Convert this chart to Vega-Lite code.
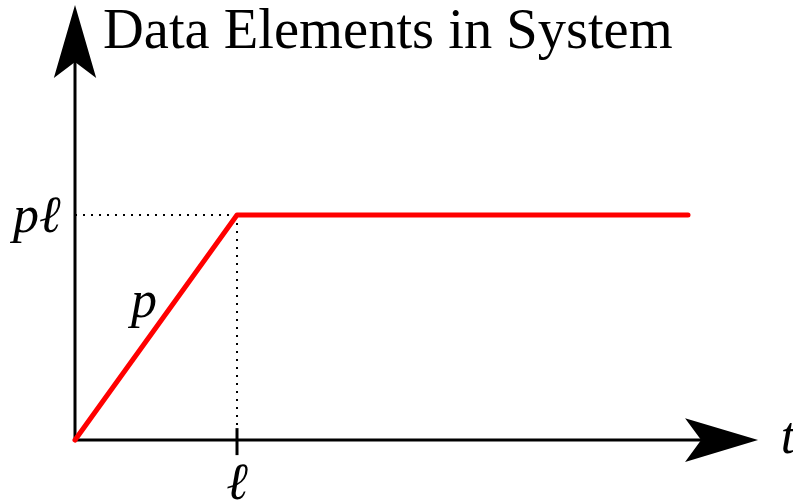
{
  "$schema": "https://vega.github.io/schema/vega-lite/v6.json",
  "width": 793,
  "height": 501,
  "autosize": {"type": "none"},
  "padding": 0,
  "background": "white",
  "config": {"view": {"stroke": null}},
  "datasets": {
    "axes": [
      {"x": 0, "y": 0, "x2": 3.9, "y2": 0},
      {"x": 0, "y": 0, "x2": 0, "y2": 1.75}
    ],
    "dotted": [
      {"x": 0, "y": 1, "x2": 1, "y2": 1},
      {"x": 1, "y": 1, "x2": 1, "y2": 0.053}
    ],
    "tick": [
      {"x": 1, "y": 0.053, "x2": 1, "y2": -0.067}
    ],
    "curve": [
      {"t": 0, "n": 0},
      {"t": 1, "n": 1},
      {"t": 3.784, "n": 1}
    ],
    "upArrow": [{"x": 0, "y": 1.771}],
    "rightArrow": [{"x": 3.991, "y": 0}],
    "mathLabels": [
      {"x": -0.235, "y": 0.924, "label": "pℓ"},
      {"x": 0.426, "y": 0.547, "label": "p"},
      {"x": 1, "y": -0.262, "label": "ℓ"},
      {"x": 4.401, "y": -0.058, "label": "t"}
    ],
    "title": [{"x": 0.173, "y": 1.742, "label": "Data Elements in System"}]
  },
  "layer": [
    {
      "data": {"name": "axes"},
      "mark": {"type": "rule", "color": "black", "strokeWidth": 3},
      "encoding": {
        "x": {"field": "x", "type": "quantitative", "scale": {"domain": [-0.463, 4.432], "nice": false, "zero": false}, "axis": null},
        "y": {"field": "y", "type": "quantitative", "scale": {"domain": [-0.271, 1.956], "nice": false, "zero": false}, "axis": null},
        "x2": {"field": "x2"},
        "y2": {"field": "y2"}
      }
    },
    {
      "data": {"name": "dotted"},
      "mark": {"type": "rule", "color": "black", "strokeWidth": 2, "strokeDash": [2, 6]},
      "encoding": {
        "x": {"field": "x", "type": "quantitative"},
        "y": {"field": "y", "type": "quantitative"},
        "x2": {"field": "x2"},
        "y2": {"field": "y2"}
      }
    },
    {
      "data": {"name": "tick"},
      "mark": {"type": "rule", "color": "black", "strokeWidth": 3},
      "encoding": {
        "x": {"field": "x", "type": "quantitative"},
        "y": {"field": "y", "type": "quantitative"},
        "x2": {"field": "x2"},
        "y2": {"field": "y2"}
      }
    },
    {
      "data": {"name": "curve"},
      "mark": {"type": "line", "color": "#ff0000", "strokeWidth": 5, "strokeCap": "round", "strokeJoin": "round"},
      "encoding": {
        "x": {"field": "t", "type": "quantitative"},
        "y": {"field": "n", "type": "quantitative"},
        "order": {"field": "t"}
      }
    },
    {
      "data": {"name": "upArrow"},
      "mark": {"type": "point", "shape": "M0,-1 L0.58,1 L0,0.56 L-0.58,1 Z", "size": 5329, "filled": true, "color": "black", "opacity": 1, "strokeWidth": 0},
      "encoding": {
        "x": {"field": "x", "type": "quantitative"},
        "y": {"field": "y", "type": "quantitative"}
      }
    },
    {
      "data": {"name": "rightArrow"},
      "mark": {"type": "point", "shape": "M1,0 L-1,-0.6 L-0.56,0 L-1,0.6 Z", "size": 5329, "filled": true, "color": "black", "opacity": 1, "strokeWidth": 0},
      "encoding": {
        "x": {"field": "x", "type": "quantitative"},
        "y": {"field": "y", "type": "quantitative"}
      }
    },
    {
      "data": {"name": "mathLabels"},
      "mark": {"type": "text", "font": "Liberation Serif", "fontStyle": "italic", "fontSize": 52, "baseline": "alphabetic", "align": "center", "color": "black"},
      "encoding": {
        "x": {"field": "x", "type": "quantitative"},
        "y": {"field": "y", "type": "quantitative"},
        "text": {"field": "label"}
      }
    },
    {
      "data": {"name": "title"},
      "mark": {"type": "text", "font": "Liberation Serif", "fontSize": 56.5, "baseline": "alphabetic", "align": "left", "color": "black"},
      "encoding": {
        "x": {"field": "x", "type": "quantitative"},
        "y": {"field": "y", "type": "quantitative"},
        "text": {"field": "label"}
      }
    }
  ]
}
